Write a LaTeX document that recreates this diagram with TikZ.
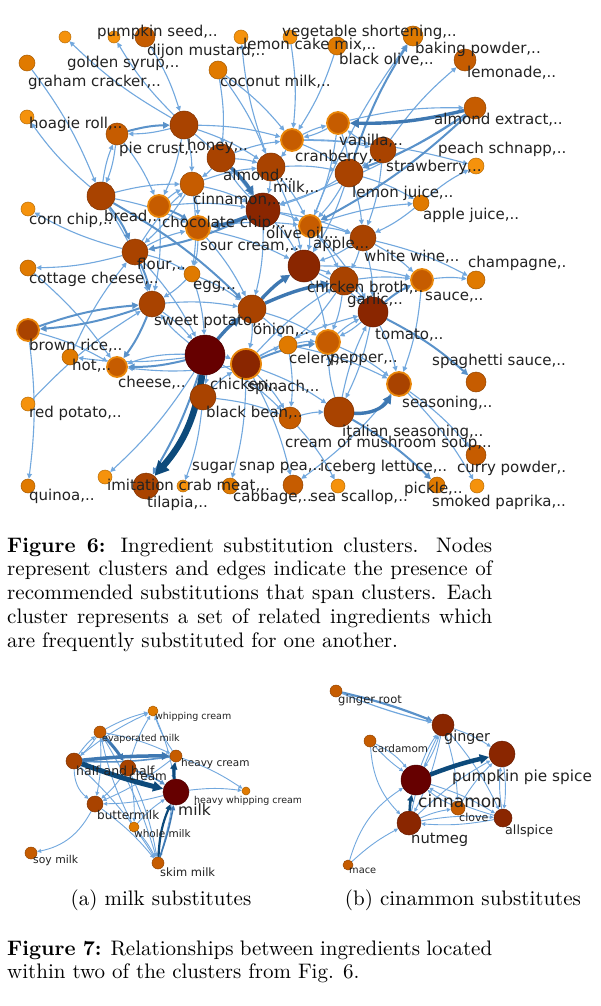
\documentclass[tikz,border=0pt]{standalone}
\usepackage{fontspec}
\setmainfont{lmroman10-regular.otf}[BoldFont=lmroman10-bold.otf,ItalicFont=lmroman10-italic.otf]
\newfontfamily\dejavu{DejaVu Sans}
\usetikzlibrary{arrows.meta}
\pgfdeclarelayer{back}
\pgfdeclarelayer{bg}
\pgfsetlayers{back,bg,main}
\definecolor{cA}{HTML}{F5920C}
\definecolor{cB}{HTML}{E07A00}
\definecolor{cC}{HTML}{C65C00}
\definecolor{cD}{HTML}{A94300}
\definecolor{cE}{HTML}{8A2600}
\definecolor{cF}{HTML}{660000}
\definecolor{ringc}{HTML}{E8860A}
\definecolor{eL}{HTML}{72A8DE}
\definecolor{eM}{HTML}{5A92CA}
\definecolor{eT}{HTML}{3E78B2}
\definecolor{eN}{HTML}{0D4A7B}
\definecolor{txt}{HTML}{222222}
\newcommand\fsz[1]{\dejavu\fontsize{#1}{#1}\selectfont}
\newcommand\capfont{\fontsize{21}{24}\selectfont}
\newcommand\mkn[5]{\node[nd=#4,minimum size=#5pt] (#1) at (#2,#3) {};}
\newcommand\mkr[5]{\node[nd=#4,rg,minimum size=#5pt] (#1) at (#2,#3) {};}
\newcommand\ed[3]{\draw[#1] (#2) to[bend left=7] (#3);}
\tikzset{
  nd/.style={circle,inner sep=0pt,fill=#1,draw=#1!75!black,line width=0.5pt},
  rg/.style={draw=ringc,line width=1.8pt},
  arrw/.style={-{Triangle[length=3.2pt 1.7,width=3pt 1.7]}},
  eLt/.style={arrw,draw=eL,line width=1.1pt},
  eMd/.style={arrw,draw=eM,line width=2pt},
  eTk/.style={arrw,draw=eT,line width=3.4pt},
  eNv/.style={arrw,draw=eN,line width=6.5pt},
  lab/.style={anchor=west,inner sep=0pt,text=txt,font=\fsz{15}},
  sl/.style={anchor=west,inner sep=0pt,text=txt,font=\fsz{#1}},
}
\begin{document}
\begin{tikzpicture}[x=1pt,y=-1pt]
\useasboundingbox (0,0) rectangle (600,1006);
\begin{pgfonlayer}{back}
\fill[white] (0,0) rectangle (600,1006);
\end{pgfonlayer}
% ---------------- main network nodes
\mkn{n1}{65}{37}{cA}{12}
\mkn{n2}{114}{37}{cA}{12}
\mkn{n3}{145}{37}{cC}{20}
\mkn{n4}{27}{63}{cB}{16}
\mkn{n5}{241}{37}{cA}{14}
\mkn{n6}{290}{37}{cA}{14}
\mkn{n7}{337}{46}{cB}{18}
\mkn{n8}{413}{36}{cB}{20}
\mkn{n9}{465}{60}{cC}{22}
\mkn{n10}{218}{70}{cB}{18}
\mkn{n11}{27}{117}{cA}{14}
\mkn{n12}{184}{125}{cD}{28}
\mkn{n13}{117}{134}{cC}{22}
\mkn{n14}{221}{158}{cD}{28}
\mkr{n15}{292}{140}{cC}{22}
\mkr{n16}{338}{123}{cC}{22}
\mkn{n17}{475}{108}{cC}{22}
\mkn{n18}{383}{150}{cD}{26}
\mkn{n19}{271}{167}{cD}{28}
\mkn{n20}{349}{173}{cD}{28}
\mkn{n21}{476}{166}{cA}{16}
\mkn{n22}{192}{184}{cC}{24}
\mkr{n23}{159}{206}{cC}{22}
\mkn{n24}{101}{196}{cD}{28}
\mkn{n25}{28}{209}{cA}{14}
\mkn{n26}{263}{210}{cE}{34}
\mkr{n27}{198}{228}{cC}{24}
\mkn{n28}{421}{203}{cB}{16}
\mkr{n29}{310}{226}{cC}{22}
\mkn{n30}{363}{238}{cD}{26}
\mkn{n31}{135}{252}{cD}{26}
\mkn{n32}{28}{268}{cB}{16}
\mkn{n33}{192}{274}{cB}{16}
\mkn{n34}{304}{266}{cE}{32}
\mkn{n35}{344}{281}{cD}{28}
\mkr{n36}{422}{280}{cC}{22}
\mkn{n37}{476}{280}{cB}{18}
\mkn{n38}{152}{304}{cD}{26}
\mkn{n39}{252}{309}{cD}{28}
\mkn{n40}{373}{312}{cE}{30}
\mkr{n41}{28}{330}{cD}{22}
\mkn{n42}{70}{357}{cB}{16}
\mkr{n43}{117}{367}{cC}{20}
\mkn{n44}{288}{345}{cB}{18}
\mkr{n45}{328}{342}{cC}{24}
\mkn{n46}{205}{355}{cF}{40}
\mkr{n47}{246}{364}{cE}{30}
\mkn{n48}{203}{397}{cD}{26}
\mkr{n49}{399}{384}{cD}{24}
\mkn{n50}{476}{382}{cC}{20}
\mkn{n51}{28}{404}{cA}{14}
\mkn{n52}{290}{418}{cC}{22}
\mkn{n53}{339}{412}{cD}{30}
\mkn{n54}{476}{455}{cC}{20}
\mkn{n55}{105}{477}{cA}{14}
\mkn{n56}{28}{486}{cB}{14}
\mkn{n57}{146}{486}{cD}{26}
\mkn{n58}{183}{486}{cA}{12}
\mkn{n59}{230}{486}{cB}{16}
\mkn{n60}{293}{485}{cC}{20}
\mkn{n61}{338}{486}{cA}{14}
\mkn{n62}{437}{485}{cB}{16}
\mkn{n63}{477}{486}{cA}{14}
% ---------------- main network edges
\begin{pgfonlayer}{bg}
\ed{eLt}{n12}{n1}\ed{eLt}{n12}{n2}\ed{eLt}{n4}{n24}\ed{eLt}{n24}{n11}
\ed{eLt}{n12}{n13}\ed{eLt}{n24}{n13}\ed{eLt}{n13}{n24}\ed{eLt}{n12}{n22}
\ed{eLt}{n12}{n19}\ed{eLt}{n12}{n15}\ed{eLt}{n12}{n23}\ed{eLt}{n24}{n22}
\ed{eLt}{n24}{n27}\ed{eLt}{n31}{n25}\ed{eLt}{n31}{n32}\ed{eLt}{n32}{n43}
\ed{eLt}{n31}{n22}\ed{eLt}{n31}{n27}\ed{eLt}{n31}{n33}\ed{eLt}{n22}{n31}
\ed{eLt}{n10}{n15}\ed{eLt}{n10}{n14}\ed{eLt}{n10}{n19}\ed{eLt}{n19}{n5}
\ed{eLt}{n6}{n15}\ed{eLt}{n7}{n15}\ed{eLt}{n29}{n8}\ed{eLt}{n18}{n9}
\ed{eLt}{n16}{n17}\ed{eLt}{n17}{n26}\ed{eLt}{n15}{n21}\ed{eLt}{n28}{n21}
\ed{eLt}{n28}{n30}\ed{eLt}{n29}{n28}\ed{eLt}{n20}{n28}\ed{eLt}{n14}{n15}
\ed{eLt}{n15}{n16}\ed{eLt}{n16}{n15}\ed{eLt}{n15}{n18}\ed{eLt}{n19}{n26}
\ed{eLt}{n19}{n20}\ed{eLt}{n15}{n19}\ed{eLt}{n15}{n20}\ed{eLt}{n16}{n20}
\ed{eLt}{n18}{n20}\ed{eLt}{n18}{n30}\ed{eLt}{n16}{n29}\ed{eLt}{n19}{n29}
\ed{eLt}{n19}{n34}\ed{eLt}{n20}{n29}\ed{eLt}{n20}{n30}\ed{eLt}{n20}{n34}
\ed{eLt}{n20}{n26}\ed{eLt}{n22}{n26}\ed{eLt}{n22}{n19}\ed{eLt}{n22}{n27}
\ed{eLt}{n23}{n26}\ed{eLt}{n26}{n29}\ed{eLt}{n26}{n30}\ed{eLt}{n26}{n34}
\ed{eLt}{n26}{n39}\ed{eLt}{n27}{n29}\ed{eLt}{n27}{n33}\ed{eLt}{n27}{n39}
\ed{eLt}{n27}{n34}\ed{eLt}{n29}{n30}\ed{eLt}{n29}{n34}\ed{eLt}{n29}{n35}
\ed{eLt}{n30}{n34}\ed{eLt}{n30}{n35}\ed{eLt}{n30}{n36}\ed{eLt}{n30}{n37}
\ed{eLt}{n30}{n40}\ed{eLt}{n33}{n39}\ed{eLt}{n33}{n38}\ed{eLt}{n38}{n39}
\ed{eLt}{n38}{n46}\ed{eLt}{n46}{n38}\ed{eLt}{n31}{n46}\ed{eLt}{n34}{n35}
\ed{eLt}{n35}{n40}\ed{eLt}{n34}{n40}\ed{eLt}{n35}{n36}\ed{eLt}{n40}{n45}
\ed{eLt}{n45}{n40}\ed{eLt}{n40}{n49}\ed{eLt}{n35}{n45}\ed{eLt}{n34}{n45}
\ed{eLt}{n44}{n45}\ed{eLt}{n39}{n44}\ed{eLt}{n39}{n47}\ed{eLt}{n47}{n44}
\ed{eLt}{n46}{n47}\ed{eLt}{n47}{n35}\ed{eLt}{n47}{n40}\ed{eLt}{n47}{n43}
\ed{eLt}{n46}{n48}\ed{eLt}{n48}{n47}\ed{eLt}{n46}{n55}\ed{eLt}{n48}{n58}
\ed{eLt}{n47}{n59}\ed{eLt}{n47}{n60}\ed{eLt}{n52}{n61}\ed{eLt}{n48}{n52}
\ed{eLt}{n47}{n52}\ed{eLt}{n46}{n52}\ed{eLt}{n44}{n52}\ed{eLt}{n45}{n49}
\ed{eLt}{n44}{n49}\ed{eLt}{n36}{n49}\ed{eLt}{n49}{n54}\ed{eLt}{n49}{n63}
\ed{eLt}{n49}{n60}\ed{eLt}{n53}{n45}\ed{eLt}{n53}{n40}\ed{eLt}{n47}{n53}
\ed{eLt}{n41}{n56}\ed{eLt}{n41}{n43}\ed{eLt}{n51}{n38}\ed{eLt}{n42}{n31}
\ed{eLt}{n46}{n42}\ed{eLt}{n33}{n46}\ed{eLt}{n36}{n37}\ed{eLt}{n14}{n22}
\ed{eLt}{n14}{n19}\ed{eLt}{n13}{n23}\ed{eLt}{n23}{n22}\ed{eLt}{n26}{n14}
\ed{eLt}{n18}{n16}\ed{eLt}{n3}{n12}\ed{eLt}{n12}{n26}\ed{eLt}{n22}{n33}
\ed{eLt}{n23}{n38}\ed{eLt}{n24}{n38}\ed{eLt}{n39}{n45}\ed{eLt}{n35}{n44}
\ed{eLt}{n29}{n40}\ed{eLt}{n52}{n53}\ed{eLt}{n34}{n36}\ed{eLt}{n40}{n53}
\ed{eMd}{n13}{n12}\ed{eMd}{n17}{n20}\ed{eMd}{n17}{n29}\ed{eMd}{n20}{n8}
\ed{eMd}{n24}{n31}\ed{eMd}{n24}{n39}\ed{eMd}{n23}{n27}\ed{eMd}{n26}{n31}
\ed{eMd}{n31}{n38}\ed{eMd}{n40}{n36}\ed{eMd}{n40}{n50}\ed{eMd}{n47}{n45}
\ed{eMd}{n46}{n43}\ed{eMd}{n38}{n43}\ed{eMd}{n53}{n62}\ed{eMd}{n41}{n38}
\ed{eMd}{n38}{n41}
\draw[eLt] (n46) to[bend right=10] (n43);
\ed{eTk}{n14}{n26}\ed{eTk}{n26}{n27}\ed{eTk}{n46}{n39}\ed{eTk}{n39}{n34}
\ed{eTk}{n39}{n35}\ed{eTk}{n17}{n16}
\draw[eTk] (n53) to[bend right=30] (n49);
\draw[eMd] (n46) to[bend left=6] (n57);
\draw[eNv] (n46) to[bend left=16] (n57);
\end{pgfonlayer}
% ---------------- main labels
\begin{scope}
\clip (0,0) rectangle (566,520);
\node[lab] (l1) at (97,32) {pumpkin seed,..};
\node[lab] (l2) at (147,51) {dijon mustard,..};
\node[lab] (l3) at (67,63) {golden syrup,..};
\node[lab] (l4) at (28,82) {graham cracker,..};
\node[lab] (l5) at (282,32) {vegetable shortening,..};
\node[lab] (l6) at (243,45) {lemon cake mix,..};
\node[lab] (l7) at (339,60) {black olive,..};
\node[lab] (l8) at (415,49) {baking powder,..};
\node[lab] (l9) at (467,73) {lemonade,..};
\node[lab] (l10) at (220,82) {coconut milk,..};
\node[lab] (l11) at (29,124) {hoagie roll,..};
\node[lab] (l12) at (434,120) {almond extract,..};
\node[lab] (l13) at (119,149) {pie crust,..};
\node[lab] (l14) at (187,146) {honey,..};
\node[lab] (l15) at (339,141) {vanilla,..};
\node[lab] (l16) at (438,149) {peach schnapp,..};
\node[lab] (l17) at (295,157) {cranberry,..};
\node[lab] (l18) at (386,167) {strawberry,..};
\node[lab] (l19) at (223,176) {almond,..};
\node[lab] (l20) at (273,188) {milk,..};
\node[lab] (l21) at (352,193) {lemon juice,..};
\node[lab] (l22) at (193,200) {cinnamon,..};
\node[lab] (l23) at (423,215) {apple juice,..};
\node[lab] (l24) at (29,220) {corn chip,..};
\node[lab] (l25) at (104,217) {bread,..};
\node[lab] (l26) at (162,223) {chocolate chip,..};
\node[lab] (l27) at (266,234) {olive oil,..};
\node[lab] (l28) at (200,247) {sour cream,..};
\node[lab] (l29) at (313,244) {apple,..};
\node[lab] (l30) at (364,257) {white wine,..};
\node[lab] (l31) at (468,263) {champagne,..};
\node[lab] (l32) at (137,265) {flour,..};
\node[lab] (l33) at (29,279) {cottage cheese,..};
\node[lab] (l34) at (193,287) {egg,..};
\node[lab] (l35) at (307,288) {chicken broth,..};
\node[lab] (l36) at (347,300) {garlic,..};
\node[lab] (l37) at (425,297) {sauce,..};
\node[lab] (l38) at (154,322) {sweet potato,..};
\node[lab] (l39) at (253,330) {onion,..};
\node[lab] (l40) at (375,335) {tomato,..};
\node[lab] (l41) at (29,346) {brown rice,..};
\node[lab] (l42) at (72,366) {hot,..};
\node[lab] (l43) at (289,359) {celery,..};
\node[lab] (l44) at (330,360) {pepper,..};
\node[lab] (l45) at (432,361) {spaghetti sauce,..};
\node[lab] (l46) at (118,383) {cheese,..};
\node[lab] (l47) at (210,385) {chicken,..};
\node[lab] (l48) at (247,387) {spinach,..};
\node[lab] (l49) at (402,403) {seasoning,..};
\node[lab] (l50) at (29,413) {red potato,..};
\node[lab] (l51) at (206,413) {black bean,..};
\node[lab] (l52) at (342,432) {italian seasoning,..};
\node[lab] (l53) at (285,443) {cream of mushroom soup,..};
\node[lab] (l54) at (192,468) {sugar snap pea,..};
\node[lab] (l55) at (320,467) {iceberg lettuce,..};
\node[lab] (l56) at (457,468) {curry powder,..};
\node[lab] (l57) at (107,486) {imitation crab meat,..};
\node[lab] (l58) at (404,489) {pickle,..};
\node[lab] (l59) at (233,497) {cabbage,..};
\node[lab] (l60) at (310,497) {sea scallop,..};
\node[lab] (l61) at (147,503) {tilapia,..};
\node[lab] (l62) at (432,502) {smoked paprika,..};
\node[lab] (l63) at (29,496) {quinoa,..};
\end{scope}
% ---------------- caption figure 6
\node[anchor=base west,inner sep=0pt] (c1) at (7,552) {\capfont\makebox[485pt][s]{\textbf{Figure 6:} Ingredient substitution clusters. Nodes}};
\node[anchor=base west,inner sep=0pt] (c2) at (7,575.5) {\capfont\makebox[485pt][s]{represent clusters and edges indicate the presence of}};
\node[anchor=base west,inner sep=0pt] (c3) at (7,599) {\capfont\makebox[485pt][s]{recommended substitutions that span clusters. Each}};
\node[anchor=base west,inner sep=0pt] (c4) at (7,623) {\capfont\makebox[485pt][s]{cluster represents a set of related ingredients which}};
\node[anchor=base west,inner sep=0pt] (c5) at (7,647) {\capfont are frequently substituted for one another.};
% ---------------- (a) milk
\mkn{a1}{153}{711}{cB}{10}
\mkn{a2}{100}{732}{cC}{12}
\mkn{a3}{74}{761}{cD}{16}
\mkn{a4}{128}{768}{cD}{16}
\mkn{a5}{176}{756}{cC}{12}
\mkn{a6}{176}{792}{cF}{26}
\mkn{a7}{246}{791}{cB}{8}
\mkn{a8}{95}{804}{cD}{16}
\mkn{a9}{134}{827}{cB}{10}
\mkn{a10}{31}{853}{cC}{12}
\mkn{a11}{158}{863}{cC}{12}
\begin{pgfonlayer}{bg}
\tikzset{arrw/.style={-{Triangle[length=2.6pt 1.5,width=2.4pt 1.5]}},eLt/.append style={line width=0.9pt}}
\ed{eLt}{a2}{a1}\ed{eLt}{a4}{a1}\ed{eLt}{a3}{a1}\ed{eLt}{a1}{a6}\ed{eLt}{a5}{a1}
\ed{eLt}{a6}{a7}\ed{eLt}{a5}{a7}
\draw[eLt] (a8) to[bend left=25] (a10);
\ed{eLt}{a8}{a11}\ed{eLt}{a3}{a11}\ed{eLt}{a2}{a11}\ed{eLt}{a2}{a8}
\draw[eLt] (a3) to[bend right=25] (a8);
\ed{eLt}{a5}{a8}\ed{eLt}{a9}{a6}\ed{eLt}{a9}{a2}\ed{eLt}{a4}{a9}
\ed{eLt}{a2}{a3}\ed{eLt}{a3}{a2}\ed{eLt}{a4}{a8}\ed{eLt}{a6}{a8}
\ed{eLt}{a9}{a11}\ed{eLt}{a2}{a5}\ed{eLt}{a5}{a11}\ed{eLt}{a4}{a11}
\draw[eM,arrw,line width=1.6pt] (a4) to[bend left=7] (a6);
\draw[eM,arrw,line width=1.6pt] (a5) to[bend left=5] (a3);
\draw[eT,arrw,line width=3pt] (a2) to[bend left=5] (a4);
\draw[eT,arrw,line width=3.5pt] (a3) to[bend left=3] (a5);
\draw[eN,arrw,line width=3pt] (a6) to[bend left=8] (a5);
\draw[eN,arrw,line width=2.2pt] (a11) to[bend left=10] (a6);
\draw[eT,arrw,line width=1.6pt] (a11) to[bend right=4] (a6);
\draw[eN,arrw,line width=5pt] (a3) to[bend right=3] (a6);
\end{pgfonlayer}
\begin{scope}
\clip (0,660) rectangle (300,890);
\node[sl=9.5] (la1) at (155,717) {whipping cream};
\node[sl=9.5] (la2) at (102,739) {evaporated milk};
\node[sl=10.5] (la3) at (181,764) {heavy cream};
\node[sl=12.5] (la4) at (76,771) {half and half};
\node[sl=12] (la5) at (129,777) {cream};
\node[sl=15.5] (la6) at (178,810) {milk};
\node[sl=9.5] (la7) at (194,801) {heavy whipping cream};
\node[sl=12] (la8) at (97,815) {buttermilk};
\node[sl=10.5] (la9) at (134,834) {whole milk};
\node[sl=10.8] (la10) at (33,861) {soy milk};
\node[sl=11.5] (la11) at (160,872) {skim milk};
\end{scope}
% ---------------- (b) cinnamon
\mkn{b1}{336}{691}{cC}{12}
\mkn{b2}{443}{725}{cE}{22}
\mkn{b3}{370}{741}{cC}{12}
\mkn{b4}{502}{754}{cE}{26}
\mkn{b5}{416}{780}{cF}{30}
\mkn{b6}{458}{808}{cC}{14}
\mkn{b7}{503}{818}{cE}{18}
\mkn{b8}{409}{823}{cE}{24}
\mkn{b9}{348}{865}{cC}{10}
\begin{pgfonlayer}{bg}
\tikzset{arrw/.style={-{Triangle[length=2.6pt 1.5,width=2.4pt 1.5]}},eLt/.append style={line width=0.9pt}}
\draw[eM,arrw,line width=2.2pt] (b1) to[bend left=4] (b2);
\draw[eL,arrw,line width=1.2pt] (b1) to[bend right=4] (b2);
\draw[eLt] (b3) to[bend left=12] (b5);\draw[eLt] (b3) to[bend right=6] (b5);
\draw[eLt] (b3) to[bend right=20] (b8);
\ed{eLt}{b2}{b5}\ed{eLt}{b5}{b2}\ed{eLt}{b2}{b4}\ed{eLt}{b2}{b7}\ed{eLt}{b2}{b8}
\ed{eLt}{b2}{b6}\ed{eLt}{b7}{b8}\ed{eLt}{b8}{b7}\ed{eLt}{b7}{b5}\ed{eLt}{b7}{b4}
\ed{eLt}{b4}{b7}\ed{eLt}{b6}{b5}\ed{eLt}{b6}{b4}\ed{eLt}{b8}{b6}\ed{eLt}{b9}{b8}
\draw[eLt] (b9) to[bend left=20] (b5);
\ed{eLt}{b8}{b4}\ed{eLt}{b8}{b2}\ed{eLt}{b5}{b7}
\draw[eN,arrw,line width=2.6pt] (b8) to[bend left=6] (b5);
\draw[eN,arrw,line width=4.5pt] (b5) to[bend left=4] (b4);
\end{pgfonlayer}
\node[sl=11.5] (lb1) at (338,700) {ginger root};
\node[sl=14.3] (lb2) at (444,738) {ginger};
\node[sl=10.4] (lb3) at (372,749) {cardamom};
\node[sl=15.3] (lb4) at (452,777) {pumpkin pie spice};
\node[sl=17] (lb5) at (418,801) {cinnamon};
\node[sl=11] (lb6) at (459,817) {clove};
\node[sl=12.7] (lb7) at (505,831) {allspice};
\node[sl=14.7] (lb8) at (411,840) {nutmeg};
\node[sl=9.8] (lb9) at (349,871) {mace};
% ---------------- sub captions and figure 7 caption
\node[anchor=base,inner sep=0pt] (sa) at (161,905) {\capfont (a) milk substitutes};
\node[anchor=base,inner sep=0pt] (sb) at (463,905) {\capfont (b) cinammon substitutes};
\node[anchor=base west,inner sep=0pt] (f1) at (7,955) {\capfont\makebox[485pt][s]{\textbf{Figure 7:} Relationships between ingredients located}};
\node[anchor=base west,inner sep=0pt] (f2) at (7,978) {\capfont within two of the clusters from Fig. 6.};
\end{tikzpicture}
\end{document}
